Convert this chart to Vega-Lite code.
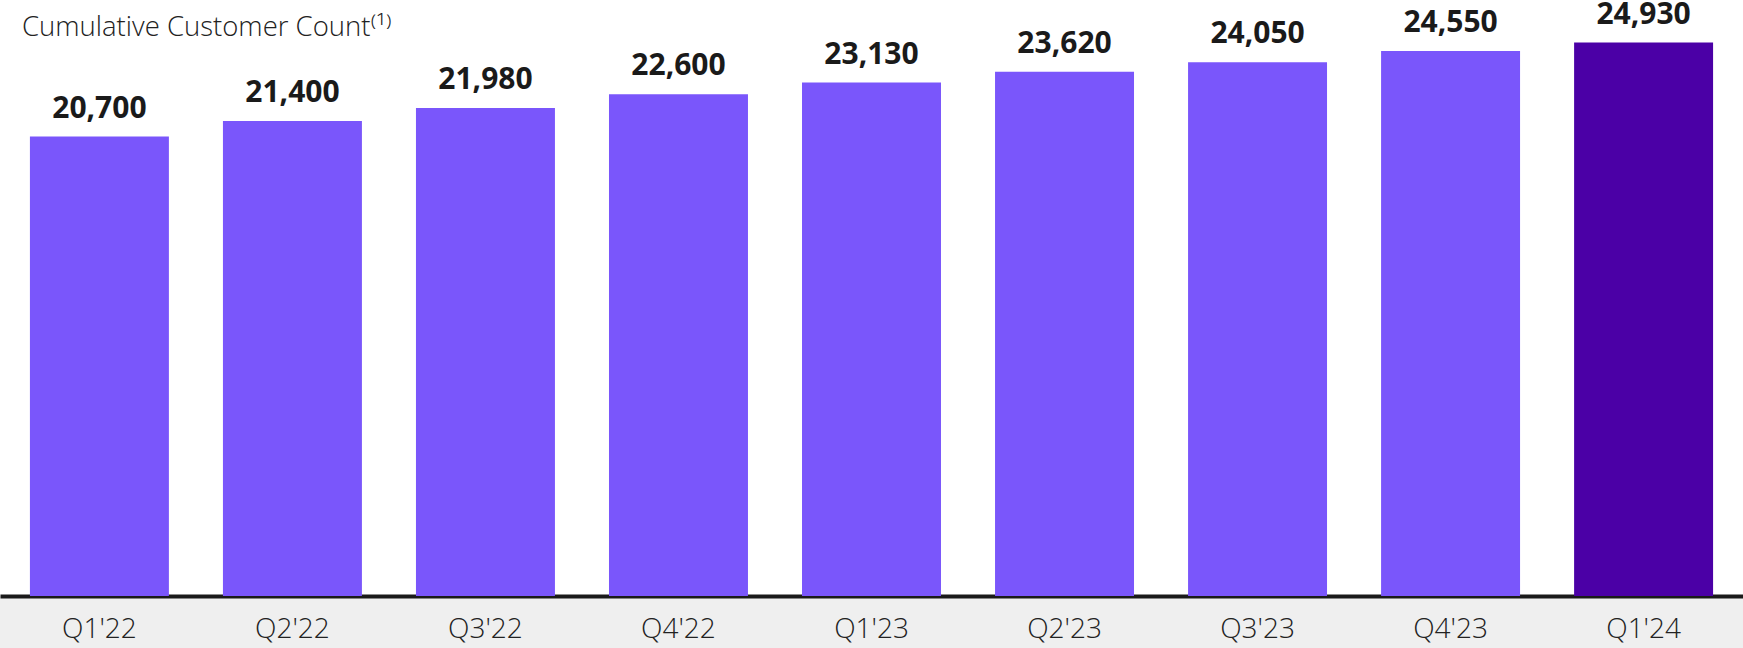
{
  "$schema": "https://vega.github.io/schema/vega-lite/v6.json",
  "autosize": "none",
  "width": 1743,
  "height": 596,
  "padding": {"left": 0, "top": 0, "right": 0, "bottom": 52},
  "background": "#efefef",
  "config": {
    "view": {"fill": "white", "stroke": null},
    "font": "Open Sans"
  },
  "title": {
    "text": "Cumulative Customer Count⁽¹⁾",
    "anchor": "start",
    "frame": "group",
    "orient": "top",
    "offset": -42,
    "dx": 22,
    "font": "Open Sans",
    "fontSize": 27.5,
    "fontWeight": 300,
    "color": "#222222"
  },
  "data": {
    "values": [
      {"quarter": "Q1'22", "customers": 20700},
      {"quarter": "Q2'22", "customers": 21400},
      {"quarter": "Q3'22", "customers": 21980},
      {"quarter": "Q4'22", "customers": 22600},
      {"quarter": "Q1'23", "customers": 23130},
      {"quarter": "Q2'23", "customers": 23620},
      {"quarter": "Q3'23", "customers": 24050},
      {"quarter": "Q4'23", "customers": 24550},
      {"quarter": "Q1'24", "customers": 24930}
    ]
  },
  "encoding": {
    "x": {
      "field": "quarter",
      "type": "nominal",
      "sort": null,
      "scale": {"paddingInner": 0.28, "paddingOuter": 0.155},
      "axis": {
        "title": null,
        "labelAngle": 0,
        "ticks": false,
        "domainColor": "#1a1a1a",
        "domainWidth": 4,
        "labelFont": "Open Sans",
        "labelFontSize": 28,
        "labelFontWeight": 300,
        "labelColor": "#222222",
        "labelPadding": 19
      }
    },
    "y": {
      "field": "customers",
      "type": "quantitative",
      "scale": {"domain": [0, 26850], "nice": false},
      "axis": null
    }
  },
  "layer": [
    {
      "mark": {"type": "bar"},
      "encoding": {
        "color": {
          "condition": {"test": "datum.quarter === \"Q1'24\"", "value": "#4b00a6"},
          "value": "#7a56fb"
        }
      }
    },
    {
      "mark": {
        "type": "text",
        "baseline": "alphabetic",
        "dy": -19,
        "font": "Open Sans",
        "fontSize": 30,
        "fontWeight": "bold",
        "color": "#1a1a1a"
      },
      "encoding": {
        "text": {"field": "customers", "type": "quantitative", "format": ",d"}
      }
    }
  ]
}
